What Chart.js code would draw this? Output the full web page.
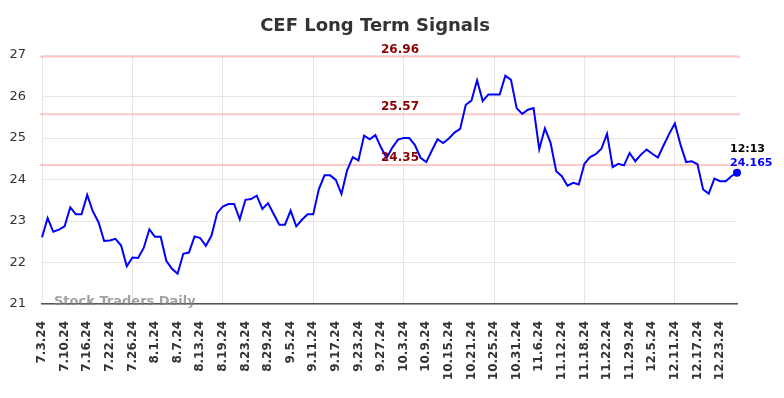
<!DOCTYPE html>
<html>
<head>
<meta charset="utf-8">
<script src="https://cdn.jsdelivr.net/npm/chart.js@4.4.1/dist/chart.umd.min.js"></script>
<style>
  html, body { margin: 0; padding: 0; background: #fff; }
  #wrap { width: 784px; height: 398px; }
</style>
</head>
<body>
<div id="wrap"><canvas id="grafico"></canvas></div>
<script>
// trading days shown on the x axis
var dates = [
  "7.3.24", "7.5.24", "7.8.24", "7.9.24", "7.10.24", "7.11.24", "7.12.24", "7.15.24", "7.16.24", "7.17.24",
  "7.18.24", "7.19.24", "7.22.24", "7.23.24", "7.24.24", "7.25.24", "7.26.24", "7.29.24", "7.30.24", "7.31.24",
  "8.1.24", "8.2.24", "8.5.24", "8.6.24", "8.7.24", "8.8.24", "8.9.24", "8.12.24", "8.13.24", "8.14.24",
  "8.15.24", "8.16.24", "8.19.24", "8.20.24", "8.21.24", "8.22.24", "8.23.24", "8.26.24", "8.27.24", "8.28.24",
  "8.29.24", "8.30.24", "9.3.24", "9.4.24", "9.5.24", "9.6.24", "9.9.24", "9.10.24", "9.11.24", "9.12.24",
  "9.13.24", "9.16.24", "9.17.24", "9.18.24", "9.19.24", "9.20.24", "9.23.24", "9.24.24", "9.25.24", "9.26.24",
  "9.27.24", "9.30.24", "10.1.24", "10.2.24", "10.3.24", "10.4.24", "10.7.24", "10.8.24", "10.9.24", "10.10.24",
  "10.11.24", "10.14.24", "10.15.24", "10.16.24", "10.17.24", "10.18.24", "10.21.24", "10.22.24", "10.23.24", "10.24.24",
  "10.25.24", "10.28.24", "10.29.24", "10.30.24", "10.31.24", "11.1.24", "11.4.24", "11.5.24", "11.6.24", "11.7.24",
  "11.8.24", "11.11.24", "11.12.24", "11.13.24", "11.14.24", "11.15.24", "11.18.24", "11.19.24", "11.20.24", "11.21.24",
  "11.22.24", "11.25.24", "11.26.24", "11.27.24", "11.29.24", "12.2.24", "12.3.24", "12.4.24", "12.5.24", "12.6.24",
  "12.9.24", "12.10.24", "12.11.24", "12.12.24", "12.13.24", "12.16.24", "12.17.24", "12.18.24", "12.19.24", "12.20.24",
  "12.23.24", "12.24.24", "12.26.24", "12.27.24"
];

// closing prices
var prices = [
  22.61, 23.07, 22.74, 22.79, 22.87, 23.33, 23.16, 23.16, 23.63, 23.23,
  22.97, 22.52, 22.53, 22.57, 22.41, 21.91, 22.12, 22.11, 22.35, 22.80,
  22.62, 22.62, 22.04, 21.85, 21.73, 22.21, 22.24, 22.63, 22.59, 22.40,
  22.65, 23.19, 23.35, 23.41, 23.41, 23.04, 23.51, 23.53, 23.61, 23.29,
  23.43, 23.17, 22.91, 22.91, 23.25, 22.87, 23.03, 23.16, 23.16, 23.77,
  24.10, 24.10, 23.99, 23.65, 24.22, 24.54, 24.46, 25.06, 24.97, 25.07,
  24.77, 24.52, 24.77, 24.96, 25.00, 25.00, 24.83, 24.52, 24.42, 24.70,
  24.97, 24.88, 24.99, 25.13, 25.22, 25.80, 25.90, 26.39, 25.89, 26.05,
  26.05, 26.05, 26.50, 26.40, 25.72, 25.58, 25.68, 25.72, 24.73, 25.23,
  24.89, 24.20, 24.08, 23.85, 23.92, 23.88, 24.38, 24.54, 24.61, 24.74,
  25.10, 24.30, 24.38, 24.34, 24.64, 24.44, 24.60, 24.72, 24.62, 24.53,
  24.82, 25.10, 25.35, 24.84, 24.42, 24.44, 24.37, 23.76, 23.66, 24.02,
  23.96, 23.96, 24.08, 24.165
];

// signal levels
var levels = [26.96, 25.57, 24.35];

var yTicks = [21, 22, 23, 24, 25, 26, 27];
var lastTime = "12:13";

var FONT = "'DejaVu Sans', sans-serif";

var overlay = {
    id: "overlay",
    beforeDatasetsDraw: function (chart) {
        var c = chart.ctx, a = chart.chartArea, y = chart.scales.y;
        c.save();
        c.strokeStyle = "rgba(255, 170, 170, 0.65)";
        c.lineWidth = 2;
        levels.forEach(function (v) {
            var py = y.getPixelForValue(v);
            c.beginPath();
            c.moveTo(a.left - 2, py);
            c.lineTo(a.right + 3, py);
            c.stroke();
        });
        c.restore();
    },
    afterDatasetsDraw: function (chart) {
        var c = chart.ctx, a = chart.chartArea, x = chart.scales.x, y = chart.scales.y;
        c.save();
        // title
        c.fillStyle = "#333";
        c.font = "bold 18px " + FONT;
        c.textAlign = "center";
        c.textBaseline = "middle";
        c.fillText("CEF Long Term Signals", 375, 26);

        // level labels
        c.fillStyle = "#8b0000";
        c.font = "bold 12px " + FONT;
        c.textBaseline = "alphabetic";
        levels.forEach(function (v) {
            c.fillText(v.toFixed(2), 400, y.getPixelForValue(v) - 4);
        });

        // watermark
        c.fillStyle = "rgba(130, 130, 130, 0.75)";
        c.font = "bold 13px " + FONT;
        c.textAlign = "left";
        c.textBaseline = "middle";
        c.fillText("Stock Traders Daily", 54, 302);

        // last value
        var li = prices.length - 1;
        var px = x.getPixelForValue(li), py = y.getPixelForValue(prices[li]);
        c.font = "bold 11px " + FONT;
        c.fillStyle = "#000";
        c.fillText(lastTime, px - 7, py - 24);
        c.fillStyle = "#0000ff";
        c.fillText(String(prices[li]), px - 7, py - 10);
        c.restore();
    }
};

document.addEventListener("DOMContentLoaded", function () {
    var ctx = document.getElementById("grafico").getContext("2d");
    var grafico = new Chart(ctx, {
        type: "line",
        data: {
            labels: dates,
            datasets: [
                {
                    label: "CEF",
                    data: prices,
                    borderColor: "#0000ff",
                    borderWidth: 2,
                    backgroundColor: "#0000ff",
                    pointRadius: function (c) { return c.dataIndex === prices.length - 1 ? 4 : 0; },
                    pointBorderWidth: 0,
                    tension: 0,
                    fill: false,
                },
            ],
        },
        options: {
            responsive: true,
            maintainAspectRatio: false,
            animation: false,
            layout: { padding: { left: 0, right: 47, top: 55, bottom: 0 } },
            plugins: {
                legend: { display: false },
                title: { display: false },
                tooltip: { enabled: false },
            },
            scales: {
                x: {
                    offset: false,
                    afterFit: function (s) { s.height = 94; },
                    grid: {
                        drawTicks: false,
                        color: function (c) { return c.index % 4 === 0 ? "#e6e6e6" : "rgba(0,0,0,0)"; },
                    },
                    border: { display: true, color: "#555", width: 1.5 },
                    ticks: {
                        autoSkip: false,
                        minRotation: 90,
                        maxRotation: 90,
                        padding: 17,
                        color: "#333",
                        font: { family: FONT, size: 12, weight: "bold" },
                        callback: function (v, i) { return i % 4 === 0 ? dates[i] : null; },
                    },
                },
                y: {
                    min: yTicks[0],
                    max: yTicks[yTicks.length - 1],
                    afterFit: function (s) { s.width = 42; },
                    afterBuildTicks: function (s) { s.ticks = yTicks.map(function (v) { return { value: v }; }); },
                    grid: { drawTicks: false, color: "#e6e6e6" },
                    border: { display: false },
                    ticks: {
                        padding: 16,
                        color: "#333",
                        font: { family: FONT, size: 13 },
                    },
                },
            },
        },
        plugins: [overlay],
    });
});
</script>
</body>
</html>
